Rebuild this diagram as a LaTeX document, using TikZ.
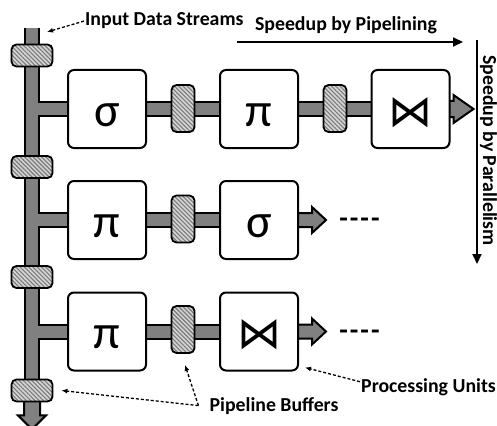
\documentclass[tikz,border=0pt]{standalone}
\usepackage{fontspec}
\setmainfont{Carlito}
\newfontfamily\opfont{DejaVu Sans}
\usetikzlibrary{arrows.meta,patterns.meta}
\pgfdeclarelayer{background}
\pgfsetlayers{background,main}
\definecolor{busgray}{HTML}{808080}
\definecolor{bufback}{HTML}{D4D4D4}
\definecolor{bufline}{HTML}{7A7A7A}
\newcommand\moremarks{-\kern2pt-\kern2pt-\kern2pt-}
\begin{document}
\begin{tikzpicture}[x=1pt,y=-1pt,
  unit/.style={draw, line width=2pt, rounded corners=6pt, fill=white,
    minimum width=78pt, minimum height=78pt, inner sep=0pt,
    font=\fontsize{48}{48}\selectfont, text height=34pt, text depth=0pt},
  opunit/.style={unit, font=\opfont\fontsize{44}{44}\selectfont},
  buffer/.style={draw, line width=1.8pt, rounded corners=5pt, inner sep=0pt,
    preaction={fill=bufback},
    pattern={Lines[angle=-45,distance=3pt,line width=1.1pt]}, pattern color=bufline},
  busbuf/.style={buffer, minimum width=41pt, minimum height=22pt},
  rowbuf/.style={buffer, minimum width=23pt, minimum height=47pt},
  busedge/.style={line width=16pt, draw=black},
  buscore/.style={line width=12pt, draw=busgray},
  flowhead/.style={fill=busgray, draw=black, line width=2pt, line join=miter},
  lbl/.style={font=\bfseries\fontsize{19.8}{24}\selectfont, inner sep=1pt},
  trail/.style={font=\bfseries\fontsize{28}{28}\selectfont, inner sep=0pt},
  note/.style={draw=black, line width=1.3pt, dash pattern=on 3pt off 2pt,
    -{Latex[length=6pt,width=5pt]}},
  axis/.style={draw=black, line width=2pt, -{Triangle[length=10pt,width=9pt]}},
]
\useasboundingbox (0,0) rectangle (497,425);

% processing units
\node[unit]   (a1) at (107,109)   {σ};
\node[unit]   (a2) at (259,109)   {π};
\node[opunit] (a3) at (410.5,109) {⋈};
\node[unit]   (b1) at (107,220)   {π};
\node[unit]   (b2) at (259,220)   {σ};
\node[unit]   (c1) at (107,331.5) {π};
\node[opunit] (c2) at (259,331.5) {⋈};

% buffers on the input bus
\node[busbuf] (d1) at (32,55.5)  {};
\node[busbuf] (d2) at (32,167)   {};
\node[busbuf] (d3) at (32,277)   {};
\node[busbuf] (d4) at (32,390.5) {};

% buffers between units
\node[rowbuf] (p1) at (183,108.5) {};
\node[rowbuf] (p2) at (335,108.5) {};
\node[rowbuf] (p3) at (183,219)   {};
\node[rowbuf] (p4) at (183,329.5) {};

\coordinate (bustop) at (32,28);

\begin{pgfonlayer}{background}
  % bus and branches: black outline stroke, then grey core
  \foreach \st in {busedge,buscore}{
    \draw[\st] (bustop) -- (d4.south);
    \draw[\st] (bustop |- a1.west) -- (a1.west);
    \draw[\st] (bustop |- b1.west) -- (b1.west);
    \draw[\st] (bustop |- c1.west) -- (c1.west);
    \draw[\st] (a1.east) -- (a2.west);
    \draw[\st] (a2.east) -- (a3.west);
    \draw[\st] (b1.east) -- (b2.west);
    \draw[\st] (c1.east) -- (c2.west);
  }
  % block arrows
  \draw[flowhead] ([shift={(-8pt,2pt)}]d4.south) -- ++(0,15) -- ++(-6,0)
    -- ++(14,14) -- ++(14,-14) -- ++(-6,0) -- ++(0,-15) -- cycle;
  \draw[flowhead] ([shift={(-3pt,8pt)}]a3.east) -- ++(6,0) -- ++(0,-6)
    -- ++(20,14) -- ++(-20,14) -- ++(0,-6) -- ++(-6,0) -- cycle;
  \draw[flowhead] ([shift={(-3pt,7pt)}]b2.east) -- ++(16,0) -- ++(0,-6)
    -- ++(14,13) -- ++(-14,13) -- ++(0,-6) -- ++(-16,0) -- cycle;
  \draw[flowhead] ([shift={(-3pt,7pt)}]c2.east) -- ++(16,0) -- ++(0,-6)
    -- ++(14,13) -- ++(-14,13) -- ++(0,-6) -- ++(-16,0) -- cycle;
\end{pgfonlayer}

% continuation marks
\node[trail, anchor=base] (t2) at (359.5,227.5) {\moremarks};
\node[trail, anchor=base] (t3) at (359.5,339.5) {\moremarks};

% labels
\node[lbl, anchor=base west] (inp) at (84,26) {Input Data Streams};
\node[lbl, anchor=base] (pipe) at (346,31) {Speedup by Pipelining};
\node[lbl, anchor=base, rotate=-90] (para) at (483,150.5) {Speedup by Parallelism};
\node[lbl, anchor=base] (pbuf) at (274,411) {Pipeline Buffers};
\node[lbl, anchor=base] (punit) at (428.5,392) {Processing Units};

% speedup axes
\coordinate (h0) at (237,42);
\coordinate (h1) at (463,42);
\draw[axis] (h0) -- (h1);
\coordinate (v0) at (477,40);
\coordinate (v1) at (477,264);
\draw[axis] (v0) -- (v1);

% annotation arrows
\coordinate (inTip) at (47,32);
\draw[note] (inp.west) -- (inTip);
\coordinate (pbTail) at ([xshift=-10pt]pbuf.west);
\draw[note] (pbTail) -- ([xshift=8pt]d4.east);
\draw[note] (pbTail) -- ([shift={(2pt,-11pt)}]p4.south);
\draw[note] ([yshift=5pt]punit.west) -- ([shift={(6pt,4pt)}]c2.south east);
\end{tikzpicture}
\end{document}
